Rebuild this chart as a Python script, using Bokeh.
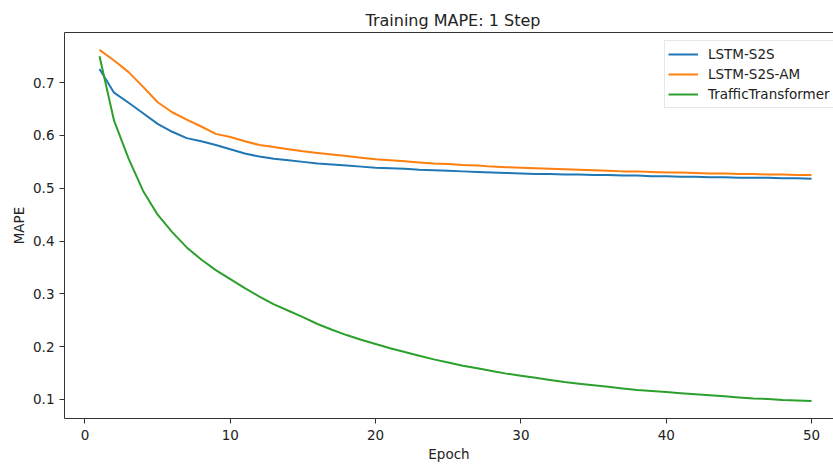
from bokeh.plotting import figure
from bokeh.models import Range1d, FixedTicker, Legend, LegendItem, Title, LinearAxis
from bokeh.embed import file_html
from bokeh.resources import INLINE

epochs = list(range(1, 51))

lstm_s2s = [0.726, 0.681, 0.662, 0.642, 0.622, 0.607, 0.595, 0.589, 0.582, 0.574,
            0.566, 0.560, 0.556, 0.553, 0.550, 0.547, 0.545, 0.543, 0.541, 0.539,
            0.538, 0.537, 0.535, 0.534, 0.533, 0.532, 0.531, 0.530, 0.529, 0.528,
            0.527, 0.527, 0.526, 0.526, 0.525, 0.525, 0.524, 0.524, 0.523, 0.523,
            0.522, 0.522, 0.521, 0.521, 0.520, 0.520, 0.520, 0.519, 0.519, 0.518]

lstm_s2s_am = [0.762, 0.742, 0.720, 0.692, 0.663, 0.644, 0.630, 0.617, 0.603, 0.597,
               0.589, 0.582, 0.578, 0.574, 0.570, 0.567, 0.564, 0.561, 0.558, 0.555,
               0.553, 0.551, 0.549, 0.547, 0.546, 0.544, 0.543, 0.541, 0.540, 0.539,
               0.538, 0.537, 0.536, 0.535, 0.534, 0.533, 0.532, 0.532, 0.531, 0.530,
               0.530, 0.529, 0.528, 0.528, 0.527, 0.527, 0.526, 0.526, 0.525, 0.525]

traffic_transformer = [0.750, 0.628, 0.556, 0.495, 0.450, 0.417, 0.388, 0.365, 0.345, 0.328,
                       0.311, 0.295, 0.280, 0.268, 0.256, 0.243, 0.232, 0.222, 0.213, 0.205,
                       0.197, 0.190, 0.183, 0.176, 0.170, 0.164, 0.159, 0.154, 0.149, 0.145,
                       0.141, 0.137, 0.133, 0.130, 0.127, 0.124, 0.121, 0.118, 0.116, 0.114,
                       0.112, 0.110, 0.108, 0.106, 0.104, 0.102, 0.101, 0.099, 0.098, 0.097]

series_names = ["LSTM-S2S", "LSTM-S2S-AM", "TrafficTransformer"]
series_colors = ["#1f77b4", "#ff7f0e", "#2ca02c"]

x_ticks = [0, 10, 20, 30, 40, 50]
y_ticks = [0.1, 0.2, 0.3, 0.4, 0.5, 0.6, 0.7]

FONT = "DejaVu Sans"
TXT = "#222222"

p = figure(width=833, height=466, output_backend="svg", toolbar_location=None,
           x_range=Range1d(-1.41, 51.51), y_range=Range1d(0.064, 0.795),
           min_border_left=64, min_border_right=0, min_border_top=32, min_border_bottom=48)

xa = p.below[0]
ya = p.left[0]

p.outline_line_color = None
p.xgrid.visible = False
p.ygrid.visible = False
p.background_fill_color = "white"
p.border_fill_color = "white"

# top frame border: a bare axis with no ticks or labels
top_axis = LinearAxis(ticker=FixedTicker(ticks=[]), major_tick_line_color=None,
                      major_tick_in=0, major_tick_out=0,
                      minor_tick_line_color=None, minor_tick_in=0, minor_tick_out=0,
                      major_label_standoff=0, axis_label_standoff=0,
                      axis_line_color="#333333")
p.add_layout(top_axis, "above")

title = Title(text="Training MAPE: 1 Step", align="left", offset=301,
              text_font=FONT, text_font_size="16px", text_font_style="normal",
              text_color=TXT, standoff=6)
p.add_layout(title, "above")

for ax, ticks in ((xa, x_ticks), (ya, y_ticks)):
    ax.ticker = FixedTicker(ticks=ticks)
    ax.minor_tick_line_color = None
    ax.major_tick_in = 0
    ax.major_tick_out = 5
    ax.major_label_standoff = 5
    ax.axis_line_color = "#333333"
    ax.major_tick_line_color = "#333333"
    ax.major_label_text_font = FONT
    ax.major_label_text_font_size = "13.5px"
    ax.major_label_text_color = TXT
    ax.axis_label_text_font = FONT
    ax.axis_label_text_font_size = "13.5px"
    ax.axis_label_text_font_style = "normal"
    ax.axis_label_text_color = TXT

xa.axis_label = "Epoch"
xa.axis_label_standoff = 3
xa.major_label_standoff = 6
ya.axis_label = "MAPE"
ya.axis_label_standoff = 3

renderers = []
for vals, color in zip([lstm_s2s, lstm_s2s_am, traffic_transformer], series_colors):
    r = p.line(epochs, vals, line_color=color, line_width=2)
    renderers.append(r)

legend = Legend(items=[LegendItem(label=n, renderers=[r]) for n, r in zip(series_names, renderers)],
                location=(600, 310))
legend.label_text_font = FONT
legend.label_text_font_size = "13.5px"
legend.label_text_color = TXT
legend.glyph_width = 30
legend.glyph_height = 20
legend.label_height = 20
legend.label_standoff = 10
legend.spacing = 0
legend.padding = 3
legend.margin = 0
legend.border_line_color = "#d0d0d0"
legend.border_line_width = 1
legend.background_fill_alpha = 0.85
p.add_layout(legend, "center")

open("out.html", "w").write(file_html(p, INLINE))
